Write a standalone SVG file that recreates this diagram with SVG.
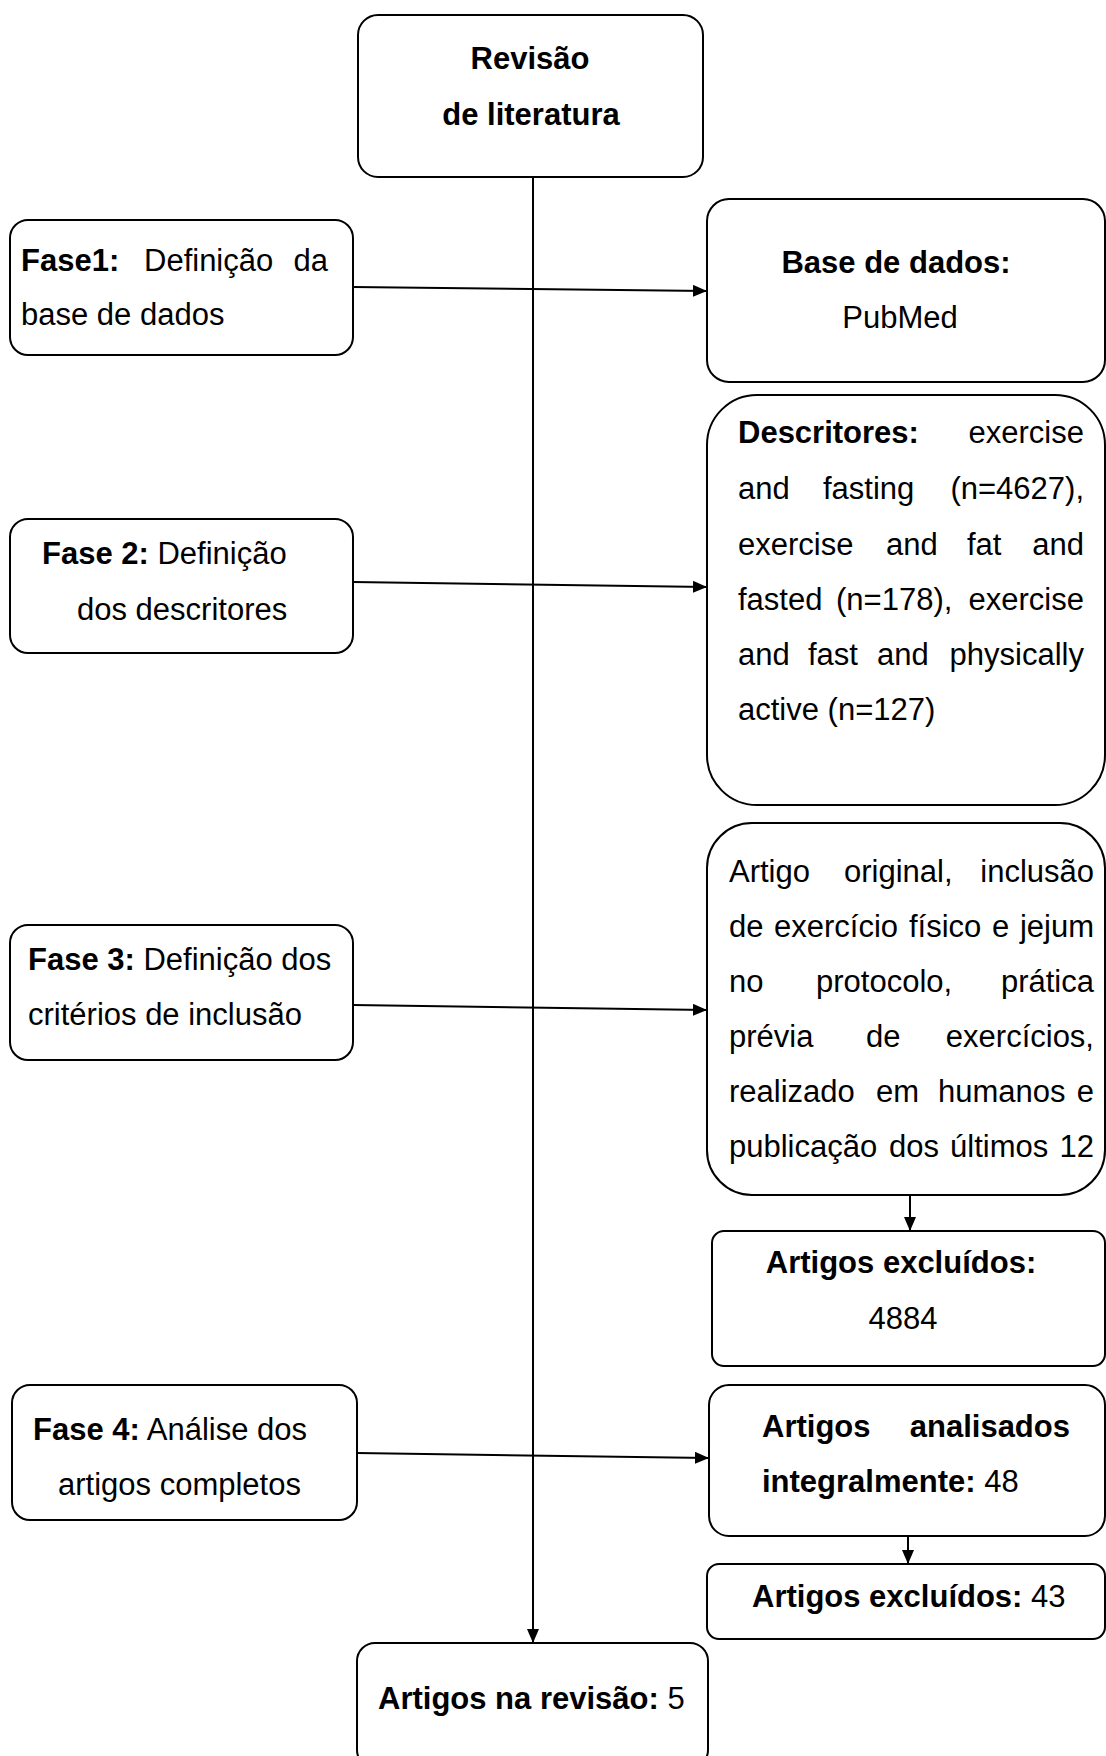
<svg xmlns="http://www.w3.org/2000/svg" width="1106" height="1756" viewBox="0 0 1106 1756">
<style>
.box{fill:#fff;stroke:#000;stroke-width:2}
text{font-family:"Liberation Sans",Arial,sans-serif;font-size:31px;fill:#000}
.b{font-weight:bold}
.e{text-anchor:end}
.m{text-anchor:middle}
.con{fill:none;stroke:#000;stroke-width:2}
</style>
<defs>
<marker id="ah" markerUnits="userSpaceOnUse" markerWidth="14" markerHeight="12" refX="14" refY="6" orient="auto">
<path d="M0,0 L14,6 L0,12 z" fill="#000"/>
</marker>
</defs>

<g id="connectors">
<path class="con" d="M533,177 L533,1643" marker-end="url(#ah)"/>
<path class="con" d="M353,287 L707,291" marker-end="url(#ah)"/>
<path class="con" d="M353,582 L707,587" marker-end="url(#ah)"/>
<path class="con" d="M353,1005 L707,1010" marker-end="url(#ah)"/>
<path class="con" d="M357,1453 L709,1458" marker-end="url(#ah)"/>
<path class="con" d="M910,1195 L910,1231" marker-end="url(#ah)"/>
<path class="con" d="M908,1536 L908,1564" marker-end="url(#ah)"/>
</g>

<g id="revisao">
<rect class="box" x="358" y="15" width="345" height="162" rx="20"/>
<text class="b m" x="530" y="69">Revisão</text>
<text class="b m" x="531" y="125">de literatura</text>
</g>

<g id="fase1">
<rect class="box" x="10" y="220" width="343" height="135" rx="18"/>
<text x="21" y="271"><tspan class="b">Fase1:</tspan></text>
<text x="144" y="271">Definição</text>
<text class="e" x="328" y="271">da</text>
<text x="21" y="325">base de dados</text>
</g>

<g id="base">
<rect class="box" x="707" y="199" width="398" height="183" rx="22"/>
<text class="b m" x="896" y="273">Base de dados:</text>
<text class="m" x="900" y="328">PubMed</text>
</g>

<g id="fase2">
<rect class="box" x="10" y="519" width="343" height="134" rx="18"/>
<text x="42" y="564"><tspan class="b">Fase 2:</tspan> Definição</text>
<text x="77" y="620">dos descritores</text>
</g>

<g id="descritores">
<rect class="box" x="707" y="395" width="398" height="410" rx="50"/>
<text class="b" x="738" y="443">Descritores:</text>
<text class="e" x="1084" y="443">exercise</text>
<text x="738" y="499">and</text>
<text x="823" y="499">fasting</text>
<text class="e" x="1084" y="499">(n=4627),</text>
<text x="738" y="555">exercise</text>
<text x="886" y="555">and</text>
<text x="967" y="555">fat</text>
<text class="e" x="1084" y="555">and</text>
<text x="738" y="610">fasted</text>
<text x="836" y="610">(n=178),</text>
<text class="e" x="1084" y="610">exercise</text>
<text x="738" y="665">and</text>
<text x="808" y="665">fast</text>
<text x="877" y="665">and</text>
<text class="e" x="1084" y="665">physically</text>
<text x="738" y="720">active (n=127)</text>
</g>

<g id="fase3">
<rect class="box" x="10" y="925" width="343" height="135" rx="18"/>
<text x="28" y="970"><tspan class="b">Fase 3:</tspan> Definição dos</text>
<text x="28" y="1025">critérios de inclusão</text>
</g>

<g id="criterios">
<rect class="box" x="707" y="823" width="398" height="372" rx="45"/>
<text x="729" y="882">Artigo</text>
<text x="844" y="882">original,</text>
<text class="e" x="1094" y="882">inclusão</text>
<text x="729" y="937">de</text>
<text x="774" y="937">exercício</text>
<text x="909" y="937">físico</text>
<text x="992" y="937">e</text>
<text class="e" x="1094" y="937">jejum</text>
<text x="729" y="992">no</text>
<text x="816" y="992">protocolo,</text>
<text class="e" x="1094" y="992">prática</text>
<text x="729" y="1047">prévia</text>
<text x="866" y="1047">de</text>
<text class="e" x="1094" y="1047">exercícios,</text>
<text x="729" y="1102">realizado</text>
<text x="876" y="1102">em</text>
<text x="938" y="1102">humanos</text>
<text class="e" x="1094" y="1102">e</text>
<text x="729" y="1157">publicação</text>
<text x="889" y="1157">dos</text>
<text x="950" y="1157">últimos</text>
<text class="e" x="1094" y="1157">12</text>
</g>

<g id="excluidos1">
<rect class="box" x="712" y="1231" width="393" height="135" rx="12"/>
<text class="b m" x="901" y="1273">Artigos excluídos:</text>
<text class="m" x="903" y="1329">4884</text>
</g>

<g id="fase4">
<rect class="box" x="12" y="1385" width="345" height="135" rx="18"/>
<text x="33" y="1440"><tspan class="b">Fase 4:</tspan> Análise dos</text>
<text x="58" y="1495">artigos completos</text>
</g>

<g id="analisados">
<rect class="box" x="709" y="1385" width="396" height="151" rx="20"/>
<text class="b" x="762" y="1437">Artigos</text>
<text class="b e" x="1070" y="1437">analisados</text>
<text x="762" y="1492"><tspan class="b">integralmente:</tspan> 48</text>
</g>

<g id="excluidos2">
<rect class="box" x="707" y="1564" width="398" height="75" rx="12"/>
<text x="752" y="1607"><tspan class="b">Artigos excluídos:</tspan> 43</text>
</g>

<g id="final">
<rect class="box" x="357" y="1643" width="351" height="125" rx="18"/>
<text x="378" y="1709"><tspan class="b">Artigos na revisão:</tspan> 5</text>
</g>
</svg>
